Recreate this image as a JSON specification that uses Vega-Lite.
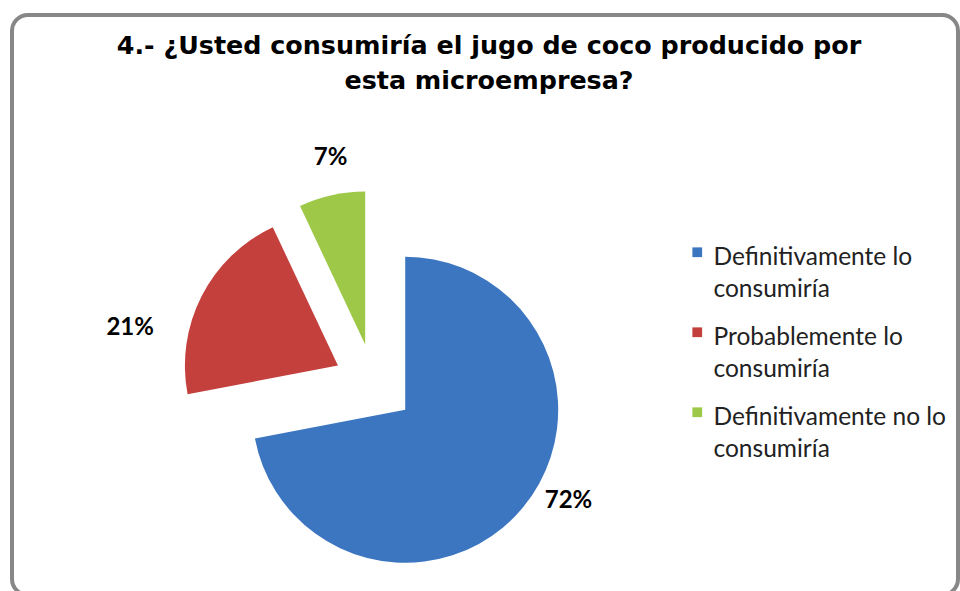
{
  "$schema": "https://vega.github.io/schema/vega-lite/v6.json",
  "width": 946,
  "height": 580,
  "autosize": {"type": "none"},
  "padding": {"left": 12, "top": 15, "right": 2, "bottom": 0},
  "background": "white",
  "config": {
    "view": {"stroke": "#878787", "strokeWidth": 4, "cornerRadius": 16, "fill": "white"},
    "style": {"guide-label": {"lineHeight": 31.5, "dy": -6}}
  },
  "title": {
    "text": ["4.- ¿Usted consumiría el jugo de coco producido por", "esta microempresa?"],
    "font": "DejaVu Sans",
    "fontSize": 25.4,
    "fontWeight": "bold",
    "color": "black",
    "anchor": "middle",
    "offset": -79,
    "dx": 4,
    "lineHeight": 35
  },
  "data": {
    "values": [
      {"respuesta": "Definitivamente lo consumiría", "porcentaje": 72},
      {"respuesta": "Probablemente lo consumiría", "porcentaje": 21},
      {"respuesta": "Definitivamente no lo consumiría", "porcentaje": 7}
    ]
  },
  "transform": [
    {"window": [{"op": "sum", "field": "porcentaje", "as": "fin"}], "sort": [{"field": "porcentaje", "order": "descending"}], "frame": [null, 0]},
    {"calculate": "datum.fin - datum.porcentaje", "as": "inicio"},
    {"calculate": "(datum.inicio + datum.fin) / 2", "as": "medio"},
    {"calculate": "sin(datum.medio / 100 * 2 * PI) * 40.5", "as": "ex"},
    {"calculate": "cos(datum.medio / 100 * 2 * PI) * 40.5", "as": "ey"},
    {"calculate": "datum.porcentaje + '%'", "as": "etiqueta"}
  ],
  "encoding": {
    "x": {"field": "ex", "type": "quantitative", "scale": {"domain": [-362, 584], "nice": false, "zero": false}, "axis": null},
    "y": {"field": "ey", "type": "quantitative", "scale": {"domain": [-211, 369], "nice": false, "zero": false}, "axis": null}
  },
  "layer": [
    {
      "mark": {"type": "arc", "radius": 153},
      "encoding": {
        "theta": {"field": "inicio", "type": "quantitative", "scale": {"domain": [0, 100]}},
        "theta2": {"field": "fin"},
        "color": {
          "field": "respuesta",
          "type": "nominal",
          "scale": {
            "domain": ["Definitivamente lo consumiría", "Probablemente lo consumiría", "Definitivamente no lo consumiría"],
            "range": ["#3D76C0", "#C4403D", "#9DC848"]
          },
          "legend": {
            "title": null,
            "orient": "none",
            "legendX": 673,
            "legendY": 225,
            "symbolType": "square",
            "symbolSize": 95,
            "symbolStrokeWidth": 0,
            "labelFont": "Lato",
            "labelFontSize": 24.5,
            "labelColor": "#222222",
            "labelLimit": 300,
            "labelOffset": 4,
            "labelBaseline": "top",
            "rowPadding": 18,
            "labelExpr": "[slice(datum.label, 0, indexof(datum.label, ' consumiría')), 'consumiría']"
          }
        }
      }
    },
    {
      "mark": {
        "type": "text",
        "radius": 195,
        "fontSize": 24,
        "fontWeight": "bold",
        "font": "Lato",
        "color": "black",
        "dx": {"expr": "datum.porcentaje == 72 ? 13 : datum.porcentaje == 21 ? -34 : 8"},
        "dy": {"expr": "datum.porcentaje == 72 ? -33 : datum.porcentaje == 21 ? 51 : 4"}
      },
      "encoding": {
        "theta": {"field": "medio", "type": "quantitative"},
        "text": {"field": "etiqueta"}
      }
    }
  ]
}
